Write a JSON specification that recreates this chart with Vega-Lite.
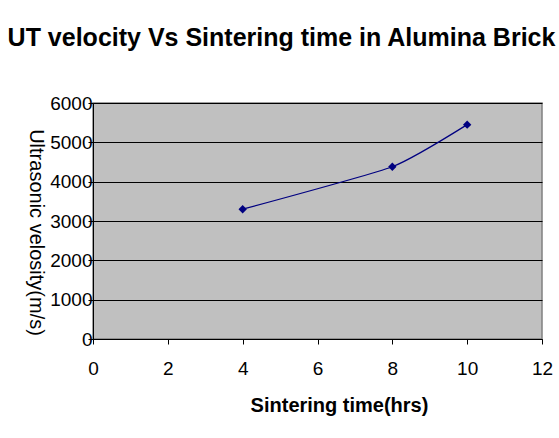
{
  "$schema": "https://vega.github.io/schema/vega-lite/v6.json",
  "width": 449,
  "height": 236,
  "autosize": {"type": "none"},
  "padding": {"left": 93, "top": 103, "right": 17, "bottom": 99},
  "background": "white",
  "title": {
    "text": "UT velocity Vs Sintering time in Alumina Brick",
    "font": "Liberation Sans",
    "fontSize": 25,
    "fontWeight": "bold",
    "color": "black",
    "anchor": "middle",
    "frame": "group",
    "dx": -36,
    "baseline": "alphabetic",
    "offset": 23
  },
  "config": {
    "view": {"fill": "#C0C0C0", "stroke": "#808080", "strokeWidth": 1.5},
    "axis": {
      "labelFont": "Liberation Sans",
      "titleFont": "Liberation Sans",
      "labelColor": "black",
      "titleColor": "black",
      "domainColor": "black",
      "tickColor": "black",
      "tickSize": 5,
      "labelFontSize": 19
    }
  },
  "data": {
    "values": [
      {"time": 4, "velocity": 3300},
      {"time": 8, "velocity": 4380},
      {"time": 10, "velocity": 5450}
    ]
  },
  "encoding": {
    "x": {
      "field": "time",
      "type": "quantitative",
      "scale": {"domain": [0, 12], "nice": false},
      "axis": {
        "tickCount": 6,
        "format": "d",
        "grid": false,
        "title": "Sintering time(hrs)",
        "titleFontSize": 20,
        "titleFontWeight": "bold",
        "titleX": 246,
        "titleY": 72,
        "titleAlign": "center",
        "titleBaseline": "alphabetic",
        "labelPadding": 15,
        "labelFlush": false,
        "labelOverlap": false
      }
    },
    "y": {
      "field": "velocity",
      "type": "quantitative",
      "scale": {"domain": [0, 6000], "nice": false},
      "axis": {
        "tickCount": 8,
        "format": "d",
        "grid": true,
        "gridColor": "black",
        "gridOpacity": 1,
        "gridWidth": 1,
        "title": "Ultrasonic velosity(m/s)",
        "titleFontSize": 20,
        "titleFontWeight": "normal",
        "titleAngle": 90,
        "titleAlign": "center",
        "titleBaseline": "middle",
        "titleX": -58,
        "titleY": 129,
        "labelPadding": -4,
        "labelFlush": false,
        "labelOverlap": false
      }
    }
  },
  "layer": [
    {
      "mark": {"type": "line", "interpolate": "cardinal", "tension": 0.5, "color": "#000080", "strokeWidth": 1.2}
    },
    {
      "mark": {"type": "point", "shape": "diamond", "filled": true, "color": "#000080", "size": 70, "opacity": 1}
    }
  ]
}
